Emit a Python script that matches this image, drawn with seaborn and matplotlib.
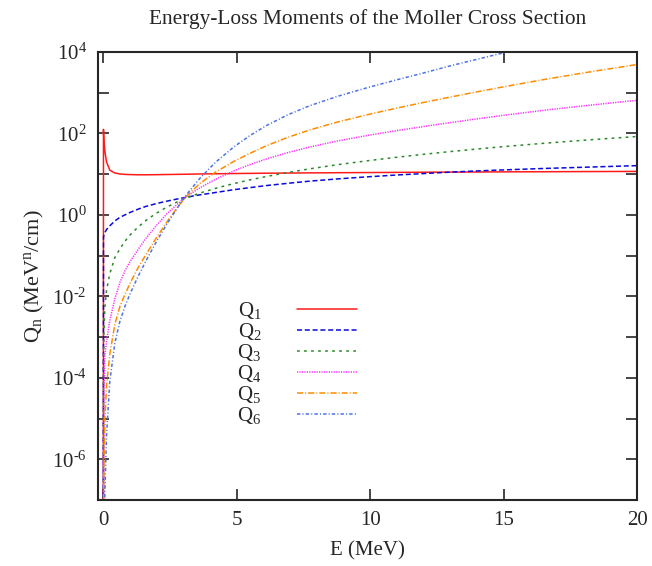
import numpy as np
import pandas as pd
import matplotlib
matplotlib.use("Agg")
import matplotlib.pyplot as plt
import seaborn as sns
from matplotlib.ticker import FixedLocator, FuncFormatter

# ---- data (values stored as log10 of Q_n) ----
energy = [0.0, 0.005, 0.02, 0.06, 0.12, 0.24, 0.43, 0.62, 0.81, 1.0, 1.3, 1.6, 2.0,
          2.4, 2.8, 3.0, 3.2, 3.6, 4.2, 4.9, 5.5, 6.1, 6.9, 7.75, 8.8, 9.9,
          11.0, 12.0, 13.0, 14.0, 15.0, 16.5, 18.0, 20.0]
q1_log10 = [-12, 2.1, 1.85, 1.55, 1.3, 1.1, 1.03, 1.005, 0.995, 0.99, 0.985, 0.985, 0.988,
            0.992, 0.996, 0.998, 1.0, 1.005, 1.01, 1.016, 1.02, 1.024, 1.028, 1.032, 1.036, 1.04,
            1.044, 1.048, 1.051, 1.054, 1.057, 1.06, 1.064, 1.068]
q2_log10 = [-12, -0.55, -0.5, -0.43, -0.36, -0.27, -0.15, -0.06, 0.0, 0.06, 0.14, 0.21, 0.28,
            0.34, 0.395, 0.42, 0.445, 0.49, 0.55, 0.62, 0.67, 0.72, 0.775, 0.83, 0.885, 0.935,
            0.98, 1.015, 1.05, 1.08, 1.105, 1.14, 1.17, 1.21]
q3_log10 = [-12, -3.8, -2.9, -2.25, -1.85, -1.45, -1.05, -0.836, -0.646, -0.494, -0.299, -0.134, 0.046,
            0.198, 0.33, 0.39, 0.44, 0.532, 0.652, 0.771, 0.861, 0.942, 1.04, 1.133, 1.235, 1.33,
            1.416, 1.488, 1.555, 1.618, 1.677, 1.758, 1.833, 1.925]
q4_log10 = [-12, -6.0, -4.3, -3.45, -3.1, -2.6, -2.06, -1.66, -1.37, -1.15, -0.85, -0.57, -0.25,
            0.04, 0.28, 0.39, 0.486, 0.658, 0.874, 1.084, 1.237, 1.372, 1.528, 1.67, 1.819, 1.951,
            2.07, 2.17, 2.266, 2.358, 2.446, 2.568, 2.679, 2.815]
q5_log10 = [-12, -8.0, -6.2, -5.0, -4.2, -3.43, -2.69, -2.25, -1.95, -1.68, -1.3, -0.97, -0.55,
            -0.156, 0.204, 0.37, 0.514, 0.762, 1.05, 1.316, 1.514, 1.694, 1.902, 2.089, 2.285, 2.461,
            2.623, 2.761, 2.893, 3.021, 3.145, 3.322, 3.487, 3.693]
q6_log10 = [-12, -10.5, -9.0, -6.8, -5.4, -4.1, -3.15, -2.615, -2.244, -1.94, -1.514, -1.124, -0.644,
            -0.204, 0.196, 0.39, 0.565, 0.885, 1.29, 1.675, 1.95, 2.19, 2.455, 2.685, 2.916, 3.125,
            3.318, 3.485, 3.66, 3.82, 3.98, 4.19, 4.39, 4.64]

labels = ["Q$_{1}$", "Q$_{2}$", "Q$_{3}$", "Q$_{4}$", "Q$_{5}$", "Q$_{6}$"]
series = [q1_log10, q2_log10, q3_log10, q4_log10, q5_log10, q6_log10]
colors = ["#ff1a1a", "#0a0adc", "#2a8a2a", "#ff2cff", "#ff8c00", "#4a72e6"]
styles = ["-", (0, (3.3, 1.8)), (0, (1.8, 2.8)), (0, (0.8, 0.8)),
          (0, (4, 1.3, 0.7, 1.3)), (0, (2.2, 1.4, 0.7, 1.4))]

xticks = [0, 5, 10, 15, 20]

# ---- style ----
sns.set_style("ticks")
plt.rcParams["font.family"] = ["Liberation Serif", "DejaVu Serif"]
plt.rcParams["mathtext.fontset"] = "custom"
plt.rcParams["mathtext.rm"] = "Liberation Serif"
plt.rcParams["mathtext.it"] = "Liberation Serif:italic"
plt.rcParams["mathtext.bf"] = "Liberation Serif:bold"

fig = plt.figure(figsize=(6.52, 5.66), dpi=100)
ax = fig.add_axes([98 / 652, 1 - 500 / 566, (637 - 98) / 652, (500 - 52) / 566])

for lab, vals, c, ls in zip(labels, series, colors, styles):
    df = pd.DataFrame({"E": energy, "Q": np.power(10.0, vals)})
    sns.lineplot(data=df, x="E", y="Q", ax=ax, color=c, linestyle=ls,
                 linewidth=1.1, label=lab, estimator=None, sort=False)

ax.set_yscale("log")
ax.set_xlim(-0.2, 20)
ax.set_ylim(1e-7, 1e4)

ax.xaxis.set_major_locator(FixedLocator(xticks))
ax.yaxis.set_major_locator(FixedLocator([10.0 ** k for k in range(-7, 5)]))
ax.yaxis.set_minor_locator(FixedLocator([]))


def yfmt(v, pos):
    k = int(round(np.log10(v)))
    if k % 2 == 0 and k >= -6:
        if k < 0:
            return "10$^{\u2010%d}$" % (-k)
        return "10$^{%d}$" % k
    return ""


ax.yaxis.set_major_formatter(FuncFormatter(yfmt))
ax.tick_params(axis="both", which="major", direction="in", length=8, width=1.2,
               top=True, right=True, labelsize=15, pad=8)
ax.tick_params(axis="y", which="minor", length=0)
for s in ax.spines.values():
    s.set_linewidth(1.5)
    s.set_visible(True)

ax.set_xlabel("E (MeV)", fontsize=15, labelpad=8)
ax.set_ylabel("Q$_{\\mathrm{n}}$ (MeV$^{\\mathrm{n}}$/cm)", fontsize=16, labelpad=4)
fig.text((98 + 637) / 2 / 652, 1 - 19 / 566,
         "Energy-Loss Moments of the Moller Cross Section",
         fontsize=15.4, ha="center", va="center")

leg = ax.legend(loc="upper left", bbox_to_anchor=(0.239, 0.47), frameon=False,
                markerfirst=False, fontsize=15, handlelength=2.9, handletextpad=1.7,
                labelspacing=0.0, borderpad=0)

fig.savefig("out.png", dpi=100)
